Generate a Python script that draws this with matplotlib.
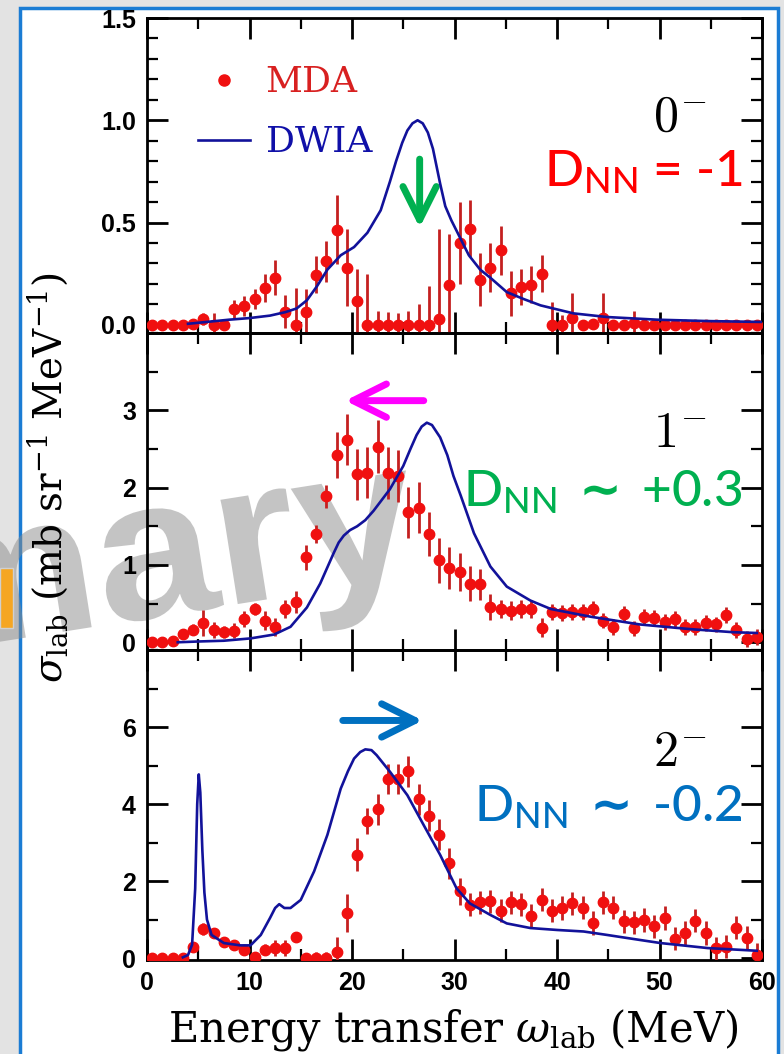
import matplotlib.pyplot as plt
from matplotlib.patches import Rectangle, PathPatch
from matplotlib.textpath import TextPath
from matplotlib.font_manager import FontProperties
from matplotlib.transforms import Affine2D
from matplotlib.lines import Line2D
from matplotlib.ticker import MultipleLocator, FormatStrFormatter

# ---------------- data ----------------
energy = [0.5, 1.5, 2.5, 3.5, 4.5, 5.5, 6.5, 7.5, 8.5, 9.5,
          10.5, 11.5, 12.5, 13.5, 14.5, 15.5, 16.5, 17.5, 18.5, 19.5,
          20.5, 21.5, 22.5, 23.5, 24.5, 25.5, 26.5, 27.5, 28.5, 29.5,
          30.5, 31.5, 32.5, 33.5, 34.5, 35.5, 36.5, 37.5, 38.5, 39.5,
          40.5, 41.5, 42.5, 43.5, 44.5, 45.5, 46.5, 47.5, 48.5, 49.5,
          50.5, 51.5, 52.5, 53.5, 54.5, 55.5, 56.5, 57.5, 58.5, 59.5]

# 0- panel
mda0 = [0, 0, 0, 0, 0.005, 0.03, 0, 0, 0.077, 0.093,
        0.127, 0.18, 0.23, 0.065, 0, 0.065, 0.245, 0.31, 0.466, 0.28,
        0.115, 0, 0, 0, 0, 0, 0, 0, 0.03, 0.195,
        0.40, 0.47, 0.22, 0.28, 0.365, 0.155, 0.185, 0.196, 0.25, 0,
        0, 0.035, 0, 0.005, 0.035, 0, 0, 0.01, 0, 0,
        0, 0, 0, 0, 0, 0, 0, 0, 0, 0]
err0 = [0.005, 0.005, 0.005, 0.005, 0.02, 0.03, 0.06, 0.01, 0.045, 0.05,
        0.05, 0.07, 0.085, 0.08, 0.18, 0.11, 0.09, 0.10, 0.17, 0.19,
        0.16, 0.25, 0.07, 0.065, 0.06, 0.07, 0.10, 0.19, 0.44, 0.25,
        0.20, 0.14, 0.13, 0.12, 0.12, 0.11, 0.09, 0.09, 0.09, 0.11,
        0.05, 0.12, 0.02, 0.02, 0.12, 0.02, 0.02, 0.06, 0.01, 0.01,
        0.01, 0.01, 0.01, 0.01, 0.01, 0.01, 0.01, 0.01, 0.01, 0.01]
dw0_x = [4, 6, 8, 10, 12, 13.5, 14.6, 15.6, 16.6, 17.6, 18.9, 20.2, 21.5,
         22.8, 23.7, 24.3, 24.9, 25.4, 25.9, 26.4, 26.9, 27.4, 27.9, 28.6,
         29.1, 29.7, 30.2, 31.4, 32.5, 33.5, 35.1, 36.8, 38.4, 41.6, 44.9,
         49.8, 55, 60]
dw0_y = [0.005, 0.015, 0.025, 0.033, 0.045, 0.062, 0.08, 0.12, 0.19, 0.27,
         0.34, 0.38, 0.45, 0.56, 0.70, 0.80, 0.89, 0.95, 0.985, 1.0, 0.985,
         0.94, 0.86, 0.69, 0.58, 0.51, 0.46, 0.34, 0.27, 0.23, 0.16, 0.125,
         0.095, 0.056, 0.038, 0.025, 0.018, 0.014]

# 1- panel
mda1 = [0.0, 0.0, 0.02, 0.11, 0.16, 0.25, 0.16, 0.13, 0.15, 0.30,
        0.43, 0.28, 0.20, 0.43, 0.52, 1.10, 1.40, 1.89, 2.42, 2.62,
        2.17, 2.19, 2.53, 2.19, 2.15, 1.68, 1.74, 1.40, 1.06, 0.96,
        0.91, 0.76, 0.75, 0.46, 0.43, 0.41, 0.43, 0.43, 0.19, 0.39,
        0.38, 0.39, 0.39, 0.43, 0.28, 0.20, 0.37, 0.18, 0.33, 0.32,
        0.26, 0.30, 0.20, 0.20, 0.25, 0.23, 0.35, 0.16, 0.04, 0.07]
err1 = [0.02, 0.02, 0.02, 0.05, 0.07, 0.17, 0.10, 0.08, 0.10, 0.10,
        0.08, 0.12, 0.12, 0.12, 0.14, 0.16, 0.12, 0.15, 0.30, 0.33,
        0.33, 0.33, 0.34, 0.34, 0.34, 0.33, 0.33, 0.29, 0.29, 0.27,
        0.25, 0.22, 0.20, 0.17, 0.12, 0.12, 0.12, 0.12, 0.12, 0.10,
        0.10, 0.10, 0.10, 0.10, 0.10, 0.10, 0.10, 0.10, 0.10, 0.10,
        0.10, 0.10, 0.10, 0.10, 0.10, 0.10, 0.10, 0.10, 0.10, 0.10]
dw1_x = [3, 5, 7.5, 10.1, 12.4, 14, 15.6, 16.9, 18.2, 18.7, 19.2, 19.8,
         20.5, 21.3, 22.1, 23.7, 25, 25.7, 26.3, 26.8, 27.3, 27.8, 28.6,
         29.3, 29.9, 30.6, 31.9, 33.5, 35.1, 37.4, 39.4, 43.3, 48.1, 53,
         57.2, 59.5]
dw1_y = [0.0, 0.01, 0.02, 0.05, 0.10, 0.20, 0.45, 0.76, 1.15, 1.29, 1.38,
         1.45, 1.50, 1.58, 1.70, 1.98, 2.28, 2.50, 2.68, 2.79, 2.84, 2.81,
         2.65, 2.42, 2.15, 1.90, 1.41, 0.98, 0.72, 0.54, 0.43, 0.33, 0.23,
         0.17, 0.13, 0.12]

# 2- panel
mda2 = [0, 0, 0, 0, 0.30, 0.75, 0.65, 0.43, 0.35, 0.22,
        0.02, 0.22, 0.26, 0.26, 0.54, 0, 0, 0, 0.16, 1.17,
        2.68, 3.56, 3.86, 4.65, 4.65, 4.85, 4.12, 3.70, 3.20, 2.46,
        1.73, 1.38, 1.45, 1.47, 1.23, 1.45, 1.40, 1.10, 1.51, 1.23,
        1.30, 1.42, 1.31, 0.91, 1.45, 1.31, 0.95, 0.93, 0.99, 0.82,
        1.04, 0.50, 0.65, 0.97, 0.65, 0.26, 0.30, 0.79, 0.52, 0.09]
err2 = [0.05, 0.05, 0.05, 0.05, 0.10, 0.15, 0.10, 0.10, 0.10, 0.10,
        0.10, 0.15, 0.20, 0.20, 0.10, 0.05, 0.15, 0.15, 0.40, 0.50,
        0.43, 0.35, 0.40, 0.40, 0.40, 0.40, 0.40, 0.40, 0.40, 0.40,
        0.35, 0.30, 0.30, 0.30, 0.30, 0.30, 0.30, 0.30, 0.30, 0.30,
        0.30, 0.30, 0.30, 0.30, 0.30, 0.30, 0.30, 0.30, 0.30, 0.30,
        0.30, 0.30, 0.30, 0.30, 0.30, 0.30, 0.30, 0.30, 0.30, 0.30]
dw2_x = [3.5, 4.0, 4.4, 4.7, 4.9, 5.05, 5.2, 5.4, 5.6, 5.85, 6.3, 7.5,
         9.1, 10.1, 11.1, 12.0, 12.5, 12.9, 13.4, 14.0, 15.0, 16.3, 17.6,
         18.9, 19.6, 20.2, 20.8, 21.3, 21.9, 22.4, 23.7, 25.4, 27.0, 28.6,
         30.2, 31.5, 33.5, 35.1, 37.4, 40.0, 42.6, 44.9, 48.1, 50.1, 54.7,
         59.5]
dw2_y = [0.02, 0.08, 0.35, 1.8, 4.0, 4.77, 4.3, 2.8, 1.7, 1.0, 0.6, 0.39,
         0.33, 0.33, 0.6, 1.04, 1.30, 1.40, 1.30, 1.30, 1.51, 2.25, 3.2,
         4.4, 4.85, 5.18, 5.35, 5.42, 5.40, 5.27, 4.84, 4.23, 3.45, 2.68,
         1.81, 1.42, 1.12, 0.90, 0.78, 0.73, 0.69, 0.60, 0.47, 0.39, 0.26,
         0.19]

panel_labels = [r'$0^{-}$', r'$1^{-}$', r'$2^{-}$']
dnn_labels = [r'D$_{\mathrm{NN}}$ = -1',
              r'D$_{\mathrm{NN}}$ $\,\mathsf{∼}\,$ +0.3',
              r'D$_{\mathrm{NN}}$ $\,\mathsf{∼}\,$ -0.2']
dnn_colors = ['#ff0000', '#00b050', '#0070c0']
y_ticks = [[0.0, 0.5, 1.0, 1.5], [0, 1, 2, 3], [0, 2, 4, 6]]

# ---------------- style ----------------
plt.rcParams['font.family'] = ['Liberation Sans', 'DejaVu Sans']
plt.rcParams['mathtext.fontset'] = 'custom'
plt.rcParams['mathtext.rm'] = 'Lato:medium'
plt.rcParams['mathtext.it'] = 'Lato:italic'
plt.rcParams['mathtext.bf'] = 'Lato:bold'
plt.rcParams['mathtext.sf'] = 'DejaVu Sans:bold'

RED = '#f01010'
ERR = '#c42020'
NAVY = '#12129a'

W, H = 784, 1054
fig = plt.figure(figsize=(W / 100, H / 100), dpi=100)
fig.patch.set_facecolor('#e3e3e3')


def fx(px):
    return px / W


def fy(py):
    return 1 - py / H


# slide frame (white sheet with blue border)
fig.add_artist(Rectangle((fx(20), -0.02), fx(778) - fx(20), fy(8) + 0.02,
                         transform=fig.transFigure, facecolor='white',
                         edgecolor='#1a7cd4', lw=2.5, zorder=-3))

# ghost watermark text behind the plot
tp = TextPath((0, 0), 'mary', size=100,
              prop=FontProperties(family='Liberation Sans', weight='bold'))
tr = (Affine2D().scale(2.15, 2.0).rotate_deg(9).translate(-84, H - 655)
      + Affine2D().scale(1 / W, 1 / H) + fig.transFigure)
fig.add_artist(PathPatch(tp, transform=tr, facecolor='#8a8a8a',
                         edgecolor='none', alpha=0.5, zorder=-2))

# orange box peeking at left edge
fig.add_artist(Rectangle((0, fy(628)), fx(13), fy(568) - fy(628),
                         transform=fig.transFigure, facecolor='#f5a623',
                         edgecolor='#d0d0d0', lw=1, zorder=-1))

# ---------------- axes ----------------
bounds = [(18, 333), (333, 650), (650, 960)]
ylims = [(-0.04, 1.5), (-0.1, 4.0), (-0.05, 8.0)]
minor_steps = [0.1, 0.5, 1.0]
mdas = [mda0, mda1, mda2]
errs = [err0, err1, err2]
dws = [(dw0_x, dw0_y), (dw1_x, dw1_y), (dw2_x, dw2_y)]

axes = []
for i, (top, bot) in enumerate(bounds):
    ax = fig.add_axes([fx(147), fy(bot), fx(762) - fx(147), fy(top) - fy(bot)])
    ax.set_facecolor('none')
    ax.set_xlim(0, 60)
    ax.set_ylim(*ylims[i])

    ax.errorbar(energy, mdas[i], yerr=errs[i], fmt='o', color=RED,
                ecolor=ERR, elinewidth=2.0, ms=7.5, capsize=0, zorder=3)
    ax.plot(dws[i][0], dws[i][1], color=NAVY, lw=1.9, zorder=4)

    ax.xaxis.set_major_locator(MultipleLocator(10))
    ax.xaxis.set_minor_locator(MultipleLocator(5))
    ax.set_yticks(y_ticks[i])
    ax.yaxis.set_minor_locator(MultipleLocator(minor_steps[i]))
    if i == 0:
        ax.yaxis.set_major_formatter(FormatStrFormatter('%.1f'))
    ax.tick_params(which='both', direction='in', top=True, right=True,
                   labelsize=18, width=2)
    ax.tick_params(which='major', length=15, pad=8)
    ax.tick_params(which='minor', length=8, width=1.6)
    if i < 2:
        ax.tick_params(labelbottom=False)
    plt.setp(ax.get_xticklabels() + ax.get_yticklabels(), fontweight='bold')
    for s in ax.spines.values():
        s.set_linewidth(2)

    ax.text(54.6, [0.95, 2.53, 5.0][i], panel_labels[i], ha='right',
            va='baseline', fontsize=36, math_fontfamily='cm', color='black')
    ax.text(58.1, [0.676, 1.76, 3.55][i], dnn_labels[i], ha='right',
            va='baseline', fontsize=37, color=dnn_colors[i],
            family=['Lato', 'DejaVu Sans'], fontweight='medium')
    axes.append(ax)

# arrows
arr = dict(lw=5, shrinkA=0, shrinkB=0, mutation_scale=30)
axes[0].annotate('', xy=(26.6, 0.475), xytext=(26.6, 0.81),
                 arrowprops=dict(arrowstyle='->,head_length=0.8,head_width=0.4',
                                 color='#00b050', **arr))
axes[1].annotate('', xy=(19.35, 3.125), xytext=(27.0, 3.125),
                 arrowprops=dict(arrowstyle='->,head_length=0.8,head_width=0.4',
                                 color='#ff00ff', **arr))
axes[2].annotate('', xy=(26.9, 6.17), xytext=(19.1, 6.17),
                 arrowprops=dict(arrowstyle='->,head_length=0.8,head_width=0.4',
                                 color='#0070c0', **arr))

# legend in the top panel
handles = [Line2D([], [], marker='o', ls='none', color=RED, ms=8),
           Line2D([], [], color=NAVY, lw=1.9)]
leg = axes[0].legend(handles, ['MDA', 'DWIA'], loc='upper left',
                     bbox_to_anchor=(0.083, 0.85), frameon=False,
                     handlelength=1.45, handletextpad=0.42, labelspacing=0.72,
                     borderpad=0, borderaxespad=0,
                     prop=FontProperties(family='DejaVu Serif', size=26))
leg.get_texts()[0].set_color('#d82020')
leg.get_texts()[1].set_color('#1010a8')

# axis titles
fig.text(fx(453), fy(1030), r'Energy transfer $\omega_{\rm lab}$ (MeV)',
         ha='center', va='center', fontsize=30, family='DejaVu Serif',
         math_fontfamily='dejavuserif')
fig.text(fx(48), fy(478), r'$\sigma_{\rm lab}$ (mb sr$^{-1}$ MeV$^{-1}$)',
         ha='center', va='center', rotation=90, fontsize=28,
         family='DejaVu Serif', math_fontfamily='dejavuserif')

fig.savefig('out.png', dpi=100, facecolor=fig.get_facecolor())
